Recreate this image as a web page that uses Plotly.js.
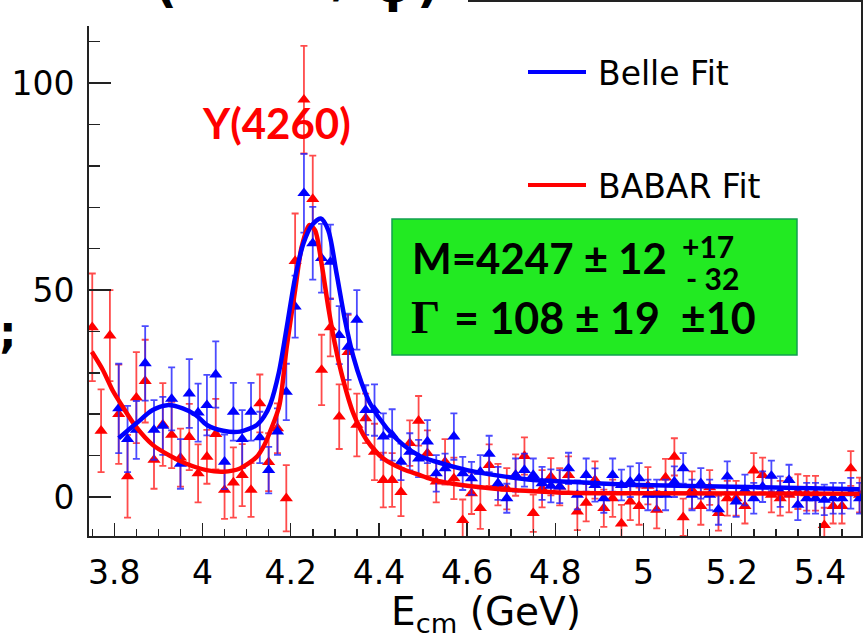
<!DOCTYPE html>
<html><head><meta charset="utf-8">
<script src="https://cdn.plot.ly/plotly-3.0.1.min.js"></script>
<style>html,body{margin:0;padding:0;background:#fff;}#chart{width:868px;height:641px;}</style>
</head><body><div id="chart"></div>
<script>
// ---- data ----
const energy = [3.75,3.77,3.79,3.81,3.83,3.85,3.87,3.89,3.91,3.93,3.95,3.97,3.99,4.01,4.03,4.05,4.07,4.09,4.11,4.13,4.15,4.17,4.19,4.21,4.23,4.25,4.27,4.29,4.31,4.33,4.35,4.37,4.39,4.41,4.43,4.45,4.47,4.49,4.51,4.53,4.55,4.57,4.59,4.61,4.63,4.65,4.67,4.69,4.71,4.73,4.75,4.77,4.79,4.81,4.83,4.85,4.87,4.89,4.91,4.93,4.95,4.97,4.99,5.01,5.03,5.05,5.07,5.09,5.11,5.13,5.15,5.17,5.19,5.21,5.23,5.25,5.27,5.29,5.31,5.33,5.35,5.37,5.39,5.41,5.43,5.45,5.47,5.49];

const babarY = [41,16,39,20,5,24,28,9,17.5,15,9.5,14.5,5.7,9.7,15.2,1.7,3.5,5.3,1.7,22.6,8.4,16.6,-0.3,57,96,72,30.7,41,19.4,35,17.4,19,10.9,4.1,4.1,1.2,13,18.4,10.6,3.7,8.5,4.5,-5.6,0.9,-2.7,7.7,3,2,5.3,9.9,-3.9,2,4.9,2.5,5.3,-3.5,-1.4,4.1,-2.7,-0.3,-6.4,-1.1,-2.2,2.7,-3.1,4.7,9.7,-4.9,1.7,-2.2,2.3,-3.9,-0.3,-0.3,-2.2,6.4,5.3,0.5,-0.3,0.5,1.3,0.9,0.9,-6.8,-2.2,-2.2,6.9,0.5];
const babarErr = [13,10,11,12,10,11,10,7,10,8,7,8,7,6.5,8.5,7,8.5,7.5,6.5,7,7,6,8,11.5,13,10.5,8.5,7,7.8,9,7.6,6,6.8,6.6,6.5,5.8,5.5,6,5.5,5,5.5,5,5,5,5,5,5,5,5,4.5,4.5,4.5,4.5,4.5,4.5,4.5,4.5,4.5,4.5,4.5,4.5,4.5,4.5,4.5,4.5,4.5,4.5,4.5,4.5,4.5,4.2,4.2,4.2,4.2,4.2,4.2,4.2,4.2,4.2,4.2,4.2,4.2,4.2,4.2,4.2,4.2,4.2,4.2];

const belleY = [null,null,null,21.4,14,16.2,32.3,16.2,17.2,23.7,8,25,20.4,22.2,29.6,8.5,20.6,14,20.6,14.4,6.5,15.8,25.4,46,73.4,61.3,57.7,56.8,39.1,36.3,42.8,21,21,14.6,15,8.5,10.9,9.3,13.4,5.7,6.9,14.6,5.7,4.5,6.1,10.4,3.3,-0.3,5.3,6.5,5.3,3.3,2.7,2.5,6.9,0.5,5.3,2.9,-0.3,5.3,2.9,3.7,4.5,0.5,0.5,0.5,3.7,6.9,0.5,3.3,0.5,-3,4.9,-1.1,1.7,-0.3,2.5,5.1,1.3,4.1,-1.9,-0.3,-0.3,-0.7,-0.3,-0.3,0.9,-0.3];
const belleErr = [0,0,0,10.8,8,7,9,7.2,7,7.6,6,8.3,7,7.3,8,6.6,7,7,7,6.2,5.6,5.6,6.8,7.5,9.5,8.8,8.3,9,7,8,7.2,6,6.2,5.6,6.2,4.4,4.5,4.5,5.2,4.4,3.6,5.6,4,4,4,4.4,4,3.5,4,4,4,4,4,4,3.8,3.5,4,4,3.5,4,3.7,3.7,3.7,3.7,3.7,3.7,3.7,3.7,3.7,3.7,3.7,3.7,3.7,3.7,3.7,3.7,3.7,3.7,3.7,3.7,3.7,3.7,3.7,3.7,3.7,3.7,3.7,3.7];

const belleFitX = [3.81,3.85,3.887,3.92,3.955,3.985,4.01,4.047,4.085,4.123,4.14,4.154,4.173,4.191,4.21,4.229,4.248,4.268,4.285,4.304,4.323,4.342,4.361,4.38,4.418,4.455,4.493,4.524,4.6,4.675,4.75,4.83,4.9,4.99,5.2,5.49];
const belleFitY = [14.2,17.8,21,22.2,21.4,19.8,17.4,16,15.8,17.4,19.5,22.5,30,41,53,61.3,65.7,67.3,64.5,54,42.8,33.9,27.5,22.6,16.6,12.6,9.9,8.7,6.5,5.1,4.1,3.7,3.3,2.9,2.5,1.9];

const babarFitX = [3.749,3.774,3.796,3.819,3.849,3.887,3.924,3.962,4.009,4.047,4.085,4.123,4.14,4.154,4.174,4.191,4.21,4.225,4.242,4.255,4.27,4.285,4.3,4.319,4.342,4.372,4.41,4.455,4.493,4.524,4.6,4.675,4.75,4.83,4.9,5.0,5.49];
const babarFitY = [35.1,30.7,25.8,21.8,17,12.6,10.1,8.1,6.5,6.1,6.9,9.7,12.5,16,22,36.3,50,60.5,65.7,64.5,56.4,46,37.1,28.3,20.2,13.8,9.3,6.7,5.3,4.1,2.7,1.9,1.4,1.0,0.9,0.9,0.8];

const xTitle = 'E<sub>cm</sub> (GeV)';
const legendLabels = ['Belle Fit', 'BABAR Fit'];
const peakLabel = 'Y(4260)';

// ---- layout helpers (pixel -> paper) ----
const L = 89, R = 7, T = 2, B = 105, W = 868 - L - R, H = 641 - T - B;
const px = p => (p - L) / W;
const py = p => (T + H - p) / H;

const RED = '#ff0000', BLUE = '#0000ff';

const traces = [
  {x: energy, y: babarY, type: 'scatter', mode: 'markers',
   marker: {symbol: 'triangle-up', size: 11.5, color: RED},
   error_y: {type: 'data', array: babarErr, visible: true, color: 'rgba(255,30,30,0.8)', thickness: 1.8, width: 3.5}},
  {x: energy, y: belleY, type: 'scatter', mode: 'markers',
   marker: {symbol: 'triangle-up', size: 11.5, color: BLUE},
   error_y: {type: 'data', array: belleErr, visible: true, color: 'rgba(30,30,255,0.8)', thickness: 1.8, width: 3.5}},
  {x: babarFitX, y: babarFitY, type: 'scatter', mode: 'lines',
   line: {color: RED, width: 4.5, shape: 'spline', smoothing: 0.8}},
  {x: belleFitX, y: belleFitY, type: 'scatter', mode: 'lines',
   line: {color: BLUE, width: 4.5, shape: 'spline', smoothing: 0.8}}
];

const axisCommon = {showline: true, linecolor: '#222', linewidth: 2, mirror: true,
  showgrid: false, zeroline: false, ticks: 'inside', tickcolor: '#222', tickwidth: 1.5,
  tickfont: {family: 'DejaVu Sans', size: 33, color: '#000'}};

const layout = {
  width: 868, height: 641,
  margin: {l: L, r: R, t: T, b: B, pad: 0},
  paper_bgcolor: '#fff', plot_bgcolor: '#fff',
  showlegend: false,
  font: {family: 'DejaVu Sans', color: '#000'},
  xaxis: Object.assign({}, axisCommon, {range: [3.7426, 5.4932], tick0: 3.8, dtick: 0.2, ticklen: 13,
    ticklabelstandoff: 6,
    minor: {dtick: 0.05, tick0: 3.8, ticks: 'inside', ticklen: 7, tickwidth: 1.5, tickcolor: '#222', showgrid: false}}),
  yaxis: Object.assign({}, axisCommon, {range: [-9.42, 119.6], tick0: 0, dtick: 50, ticklen: 22,
    ticklabelstandoff: 6,
    minor: {dtick: 10, tick0: 0, ticks: 'inside', ticklen: 11, tickwidth: 1.5, tickcolor: '#222', showgrid: false}}),
  shapes: [
    {type: 'rect', xref: 'paper', yref: 'paper', x0: px(-5), x1: px(468), y0: py(26), y1: py(-5),
     fillcolor: '#fff', line: {width: 0}, layer: 'above'},
    {type: 'rect', xref: 'paper', yref: 'paper', x0: px(392), x1: px(797), y0: py(355), y1: py(219),
     fillcolor: '#22ea22', line: {color: '#12a050', width: 1.5}, layer: 'above'},
    {type: 'line', xref: 'paper', yref: 'paper', x0: px(528), x1: px(586), y0: py(72), y1: py(72),
     line: {color: BLUE, width: 4}},
    {type: 'line', xref: 'paper', yref: 'paper', x0: px(528), x1: px(586), y0: py(185), y1: py(185),
     line: {color: RED, width: 4}}
  ],
  annotations: [
    {xref: 'paper', yref: 'paper', x: px(596), y: py(73), xanchor: 'left', yanchor: 'middle', showarrow: false,
     text: legendLabels[0], font: {family: 'DejaVu Sans', size: 33, color: '#000'}},
    {xref: 'paper', yref: 'paper', x: px(596), y: py(187), xanchor: 'left', yanchor: 'middle', showarrow: false,
     text: legendLabels[1], font: {family: 'DejaVu Sans', size: 33, color: '#000'}},
    {xref: 'paper', yref: 'paper', x: px(276), y: py(123), xanchor: 'center', yanchor: 'middle', showarrow: false,
     text: peakLabel, font: {family: 'Lato', size: 42, color: RED, weight: 700}},
    {xref: 'paper', yref: 'paper', x: px(410), y: py(258), xanchor: 'left', yanchor: 'middle', showarrow: false,
     text: 'M=4247 ± 12', font: {family: 'Lato', size: 42, color: '#000', weight: 700}},
    {xref: 'paper', yref: 'paper', x: px(680), y: py(246), xanchor: 'left', yanchor: 'middle', showarrow: false,
     text: '+17', font: {family: 'Lato', size: 30, color: '#000', weight: 700}},
    {xref: 'paper', yref: 'paper', x: px(684), y: py(278), xanchor: 'left', yanchor: 'middle', showarrow: false,
     text: '- 32', font: {family: 'Lato', size: 30, color: '#000', weight: 700}},
    {xref: 'paper', yref: 'paper', x: px(409), y: py(317), xanchor: 'left', yanchor: 'middle', showarrow: false,
     text: 'Γ', font: {family: 'Liberation Serif', size: 46, color: '#000', weight: 700}},
    {xref: 'paper', yref: 'paper', x: px(452), y: py(317), xanchor: 'left', yanchor: 'middle', showarrow: false,
     text: '= 108 ± 19 \u00a0±10', font: {family: 'Lato', size: 43, color: '#000', weight: 700}},
    {xref: 'paper', yref: 'paper', x: px(486), y: py(614), xanchor: 'center', yanchor: 'middle', showarrow: false,
     text: xTitle, font: {family: 'DejaVu Sans', size: 39, color: '#000'}},
    {xref: 'paper', yref: 'paper', x: px(-3), y: py(331), xanchor: 'left', yanchor: 'middle', showarrow: false,
     text: ';', font: {family: 'DejaVu Sans', size: 44, color: '#000', weight: 700}},
    {xref: 'paper', yref: 'paper', x: px(166), y: py(15), xanchor: 'center', yanchor: 'bottom', showarrow: false,
     text: '(', font: {family: 'DejaVu Sans', size: 48, color: '#000', weight: 700}},
    {xref: 'paper', yref: 'paper', x: px(342), y: py(10), xanchor: 'center', yanchor: 'bottom', showarrow: false,
     text: '/', font: {family: 'DejaVu Sans', size: 48, color: '#000', weight: 700}},
    {xref: 'paper', yref: 'paper', x: px(393), y: py(15), xanchor: 'center', yanchor: 'bottom', showarrow: false,
     text: 'ψ', font: {family: 'DejaVu Sans', size: 48, color: '#000', weight: 700}},
    {xref: 'paper', yref: 'paper', x: px(428), y: py(15), xanchor: 'center', yanchor: 'bottom', showarrow: false,
     text: ')', font: {family: 'DejaVu Sans', size: 48, color: '#000', weight: 700}}
  ]
};

Plotly.newPlot('chart', traces, layout, {displayModeBar: false, staticPlot: true});
</script>
</body></html>
